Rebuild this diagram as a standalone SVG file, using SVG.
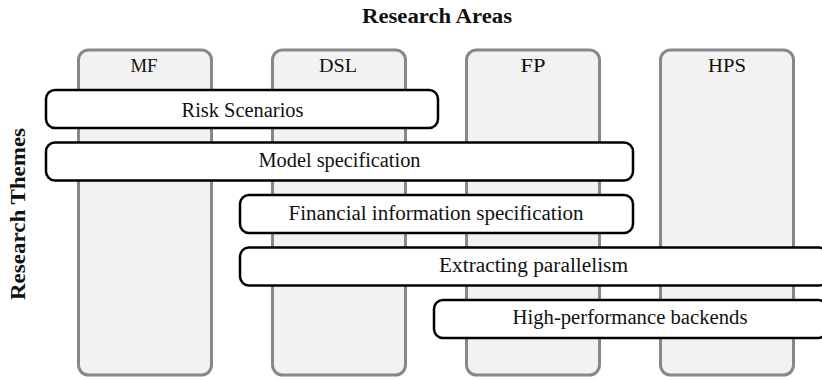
<svg xmlns="http://www.w3.org/2000/svg" width="822" height="380" viewBox="0 0 822 380">
<style>
.col{fill:#f2f2f2;stroke:#888888;stroke-width:3}
.bar{fill:#ffffff;stroke:#000000;stroke-width:2.5}
.t{font-family:"Liberation Serif","DejaVu Serif",serif;fill:#111111;text-anchor:middle}
.ct{font-size:19px}
.bt{font-size:20px}
.h{font-size:20px;font-weight:bold}
</style>
<rect width="822" height="380" fill="#ffffff"/>
<text class="t h" x="437" y="22.5" textLength="150" lengthAdjust="spacingAndGlyphs">Research Areas</text>
<text class="t h" transform="translate(25,214) rotate(-90)" textLength="172" lengthAdjust="spacingAndGlyphs">Research Themes</text>
<g id="area-MF"><rect class="col" x="78.5" y="50" width="133" height="325" rx="10"/><text class="t ct" x="144" y="72" textLength="27" lengthAdjust="spacingAndGlyphs">MF</text></g>
<g id="area-DSL"><rect class="col" x="272.5" y="50" width="133" height="325" rx="10"/><text class="t ct" x="338" y="72" textLength="38" lengthAdjust="spacingAndGlyphs">DSL</text></g>
<g id="area-FP"><rect class="col" x="466.5" y="50" width="133" height="325" rx="10"/><text class="t ct" x="533" y="72" textLength="25" lengthAdjust="spacingAndGlyphs">FP</text></g>
<g id="area-HPS"><rect class="col" x="660.5" y="50" width="133" height="325" rx="10"/><text class="t ct" x="727" y="72" textLength="38" lengthAdjust="spacingAndGlyphs">HPS</text></g>
<g id="theme-risk"><rect class="bar" x="46" y="90" width="392" height="38" rx="9"/><text class="t bt" x="242.5" y="116.5" textLength="122" lengthAdjust="spacingAndGlyphs">Risk Scenarios</text></g>
<g id="theme-model"><rect class="bar" x="46" y="142.5" width="587" height="38" rx="9"/><text class="t bt" x="339.5" y="167" textLength="162" lengthAdjust="spacingAndGlyphs">Model specification</text></g>
<g id="theme-fin"><rect class="bar" x="240" y="195" width="393" height="38" rx="9"/><text class="t bt" x="436" y="219.5" textLength="295" lengthAdjust="spacingAndGlyphs">Financial information specification</text></g>
<g id="theme-par"><rect class="bar" x="240" y="247.5" width="588" height="38" rx="9"/><text class="t bt" x="533.5" y="271.8" textLength="189" lengthAdjust="spacingAndGlyphs">Extracting parallelism</text></g>
<g id="theme-hpb"><rect class="bar" x="434" y="300" width="393" height="38" rx="9"/><text class="t bt" x="630" y="324" textLength="235" lengthAdjust="spacingAndGlyphs">High-performance backends</text></g>
<g id="connectors"></g>
</svg>
